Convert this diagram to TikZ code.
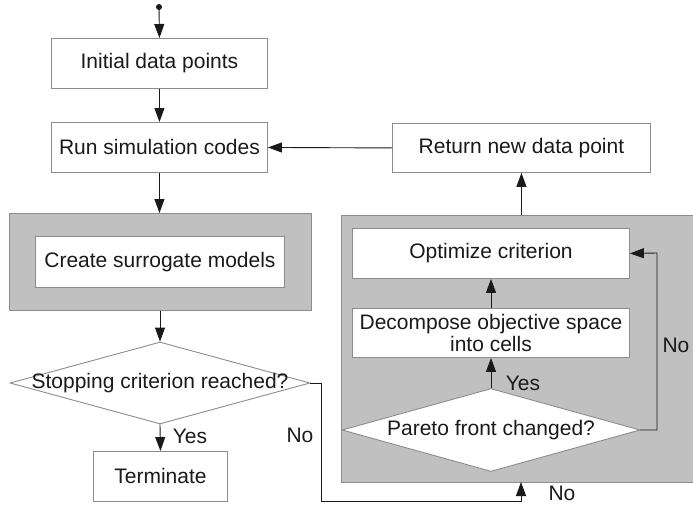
\documentclass[tikz,border=0pt]{standalone}
\usepackage{fontspec}
\setmainfont{Liberation Sans}
\usetikzlibrary{arrows.meta,shapes.geometric,positioning}
\definecolor{boxline}{HTML}{8C8C8C}
\definecolor{panel}{HTML}{C0C0C0}
\definecolor{ink}{HTML}{1A1A1A}
\begin{document}
\begin{tikzpicture}[x=1pt,y=-1pt,
  every node/.style={font=\fontsize{21}{24}\selectfont, text=ink},
  stepbox/.style={draw=boxline, line width=0.9pt, fill=white, inner sep=0pt, anchor=north west},
  panelbox/.style={draw=boxline, line width=0.9pt, fill=panel, inner sep=0pt, anchor=north west},
  decision/.style={diamond, draw=boxline, line width=0.9pt, fill=white, inner sep=0pt},
  flow/.style={draw=ink, line width=0.9pt, -{Triangle[length=14pt,width=10pt]}},
  lbl/.style={inner sep=0pt}
]
\useasboundingbox (0,0) rectangle (693,506);
% panels
\node[panelbox, minimum width=302pt, minimum height=97pt] (leftpanel) at (9,213) {};
\node[panelbox, minimum width=354pt, minimum height=267pt] (rightpanel) at (341,215) {};
% boxes
\node[stepbox, minimum width=216pt, minimum height=50pt] (init) at (51,38) {};
\node (inittext) at (init.center) {Initial data points};
\node[stepbox, minimum width=216pt, minimum height=50pt] (run) at (51,122) {};
\node (runtext) at (run.center) {Run simulation codes};
\node[stepbox, minimum width=258pt, minimum height=49pt] (ret) at (392,123) {};
\node (rettext) at (ret.center) {Return new data point};
\node[stepbox, minimum width=249pt, minimum height=51pt] (surr) at (35,236) {};
\node (surrtext) at (surr.center) {Create surrogate models};
\node[stepbox, minimum width=277pt, minimum height=50pt] (opt) at (352,228) {};
\node (opttext) at (opt.center) {Optimize criterion};
\node[stepbox, minimum width=277pt, minimum height=49pt] (dec) at (352,308) {};
\node[align=center, font=\fontsize{21}{22}\selectfont] (dectext) at (dec.center) {Decompose objective space\\into cells};
\node[stepbox, minimum width=134pt, minimum height=50pt] (term) at (93,451) {};
\node (termtext) at (term.center) {Terminate};
% decisions
\node[decision, minimum width=300pt, minimum height=82pt] (stop) at (160,383) {};
\node (stoptext) at (stop.center) {Stopping criterion reached?};
\node[decision, minimum width=298pt, minimum height=83pt] (pareto) at (491,430) {};
\node (paretotext) at (pareto.center) {Pareto front changed?};
% start
\fill[ink] (159,7) circle (3pt);
\coordinate (start) at (159,7);
% connectors
\draw[flow] (start) -- (init.north);
\draw[flow] (init.south) -- (run.north);
\draw[flow] (run.south) -- (run.south |- leftpanel.north);
\draw[flow] (ret.west) -- (run.east);
\draw[flow] (pareto.north) -- (pareto.north |- dec.south);
\draw[flow] (dec.north -| pareto.north) -- (pareto.north |- opt.south);
\draw[flow] (pareto.east) -- (657,430) -- (657,253) -- (opt.east);
\draw[flow] (ret.south |- rightpanel.north) -- (ret.south);
\draw[flow] (stop.north |- leftpanel.south) -- (stop.north);
\draw[flow] (stop.south) -- (term.north);
\draw[flow] (stop.east) -- (321,383) -- (321,501) -- (521,501) -- (521,482);
% labels
\node[lbl] (yes1) at (190,436) {Yes};
\node[lbl] (no1) at (300,435) {No};
\node[lbl] (yes2) at (523,383) {Yes};
\node[lbl] (no2) at (676,345) {No};
\node[lbl] (no3) at (562,493) {No};
\end{tikzpicture}
\end{document}
